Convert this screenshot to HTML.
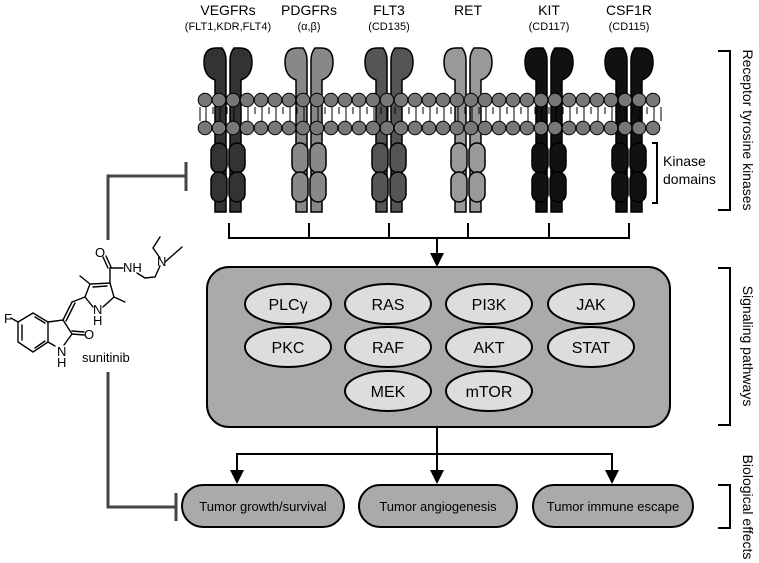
<!DOCTYPE html>
<html><head><meta charset="utf-8"><style>
html,body{margin:0;padding:0;background:#fff;}
svg{display:block;font-family:"Liberation Sans",sans-serif;}
</style></head><body>
<svg width="759" height="563" viewBox="0 0 759 563" xmlns="http://www.w3.org/2000/svg">
<defs>
<g id="rec">
  <path d="M-13,212 L-13,80 Q-24,76 -24,62 Q-24,48 -12,48 L-6,48 Q-2,53 -2,60 L-2,212 Z" stroke="#000" stroke-width="1.5"/>
  <path d="M13,212 L13,80 Q24,76 24,62 Q24,48 12,48 L6,48 Q2,53 2,60 L2,212 Z" stroke="#000" stroke-width="1.5"/>
</g>
<g id="kin">
  <rect x="-17" y="143" width="16" height="30" rx="8" stroke="#000" stroke-width="1.5"/>
  <rect x="-17" y="172" width="16" height="30" rx="8" stroke="#000" stroke-width="1.5"/>
  <rect x="1" y="143" width="16" height="30" rx="8" stroke="#000" stroke-width="1.5"/>
  <rect x="1" y="172" width="16" height="30" rx="8" stroke="#000" stroke-width="1.5"/>
</g>
</defs>

<g font-size="14" text-anchor="middle">
<text x="228" y="15">VEGFRs</text><text x="309" y="15">PDGFRs</text><text x="389" y="15">FLT3</text>
<text x="468" y="15">RET</text><text x="549" y="15">KIT</text><text x="629" y="15">CSF1R</text>
</g>
<g font-size="11" text-anchor="middle">
<text x="228" y="30">(FLT1,KDR,FLT4)</text><text x="309" y="30">(α,β)</text><text x="389" y="30">(CD135)</text>
<text x="549" y="30">(CD117)</text><text x="629" y="30">(CD115)</text>
</g>

<use href="#rec" x="228" fill="#333"/>
<use href="#rec" x="309" fill="#888"/>
<use href="#rec" x="389" fill="#555"/>
<use href="#rec" x="468" fill="#999"/>
<use href="#rec" x="549" fill="#111"/>
<use href="#rec" x="629" fill="#111"/>

<g stroke="#000" stroke-width="1" fill="none">
<path d="M200,107 L200,121 M206,107 L206,121 M213,107 L213,114 M220,107 L220,121 M227,107 L227,114 M234,107 L234,121 M241,107 L241,114 M248,107 L248,121 M255,107 L255,114 M262,107 L262,121 M269,107 L269,114 M276,107 L276,121 M283,107 L283,114 M290,107 L290,121 M297,107 L297,114 M304,107 L304,121 M311,107 L311,114 M318,107 L318,121 M325,107 L325,114 M332,107 L332,121 M339,107 L339,114 M346,107 L346,121 M353,107 L353,114 M360,107 L360,121 M367,107 L367,114 M374,107 L374,121 M381,107 L381,114 M388,107 L388,121 M395,107 L395,114 M402,107 L402,121 M409,107 L409,114 M416,107 L416,121 M423,107 L423,114 M430,107 L430,121 M437,107 L437,114 M444,107 L444,121 M451,107 L451,114 M458,107 L458,121 M465,107 L465,114 M472,107 L472,121 M479,107 L479,114 M486,107 L486,121 M493,107 L493,114 M500,107 L500,121 M507,107 L507,114 M514,107 L514,121 M521,107 L521,114 M528,107 L528,121 M535,107 L535,114 M542,107 L542,121 M549,107 L549,114 M556,107 L556,121 M563,107 L563,114 M570,107 L570,121 M577,107 L577,114 M584,107 L584,121 M591,107 L591,114 M598,107 L598,121 M605,107 L605,114 M612,107 L612,121 M619,107 L619,114 M626,107 L626,121 M633,107 L633,114 M640,107 L640,121 M647,107 L647,114 M654,107 L654,121 M661,107 L661,121"/>
</g>
<g fill="#777" stroke="#000" stroke-width="1">
<circle cx="205" cy="100" r="6.8"/><circle cx="219" cy="100" r="6.8"/><circle cx="233" cy="100" r="6.8"/><circle cx="247" cy="100" r="6.8"/><circle cx="261" cy="100" r="6.8"/><circle cx="275" cy="100" r="6.8"/><circle cx="289" cy="100" r="6.8"/><circle cx="303" cy="100" r="6.8"/><circle cx="317" cy="100" r="6.8"/><circle cx="331" cy="100" r="6.8"/><circle cx="345" cy="100" r="6.8"/><circle cx="359" cy="100" r="6.8"/><circle cx="373" cy="100" r="6.8"/><circle cx="387" cy="100" r="6.8"/><circle cx="401" cy="100" r="6.8"/><circle cx="415" cy="100" r="6.8"/><circle cx="429" cy="100" r="6.8"/><circle cx="443" cy="100" r="6.8"/><circle cx="457" cy="100" r="6.8"/><circle cx="471" cy="100" r="6.8"/><circle cx="485" cy="100" r="6.8"/><circle cx="499" cy="100" r="6.8"/><circle cx="513" cy="100" r="6.8"/><circle cx="527" cy="100" r="6.8"/><circle cx="541" cy="100" r="6.8"/><circle cx="555" cy="100" r="6.8"/><circle cx="569" cy="100" r="6.8"/><circle cx="583" cy="100" r="6.8"/><circle cx="597" cy="100" r="6.8"/><circle cx="611" cy="100" r="6.8"/><circle cx="625" cy="100" r="6.8"/><circle cx="639" cy="100" r="6.8"/><circle cx="653" cy="100" r="6.8"/>
<circle cx="205" cy="128" r="6.8"/><circle cx="219" cy="128" r="6.8"/><circle cx="233" cy="128" r="6.8"/><circle cx="247" cy="128" r="6.8"/><circle cx="261" cy="128" r="6.8"/><circle cx="275" cy="128" r="6.8"/><circle cx="289" cy="128" r="6.8"/><circle cx="303" cy="128" r="6.8"/><circle cx="317" cy="128" r="6.8"/><circle cx="331" cy="128" r="6.8"/><circle cx="345" cy="128" r="6.8"/><circle cx="359" cy="128" r="6.8"/><circle cx="373" cy="128" r="6.8"/><circle cx="387" cy="128" r="6.8"/><circle cx="401" cy="128" r="6.8"/><circle cx="415" cy="128" r="6.8"/><circle cx="429" cy="128" r="6.8"/><circle cx="443" cy="128" r="6.8"/><circle cx="457" cy="128" r="6.8"/><circle cx="471" cy="128" r="6.8"/><circle cx="485" cy="128" r="6.8"/><circle cx="499" cy="128" r="6.8"/><circle cx="513" cy="128" r="6.8"/><circle cx="527" cy="128" r="6.8"/><circle cx="541" cy="128" r="6.8"/><circle cx="555" cy="128" r="6.8"/><circle cx="569" cy="128" r="6.8"/><circle cx="583" cy="128" r="6.8"/><circle cx="597" cy="128" r="6.8"/><circle cx="611" cy="128" r="6.8"/><circle cx="625" cy="128" r="6.8"/><circle cx="639" cy="128" r="6.8"/><circle cx="653" cy="128" r="6.8"/>
</g>

<use href="#kin" x="228" fill="#333"/>
<use href="#kin" x="309" fill="#888"/>
<use href="#kin" x="389" fill="#555"/>
<use href="#kin" x="468" fill="#999"/>
<use href="#kin" x="549" fill="#111"/>
<use href="#kin" x="629" fill="#111"/>

<g stroke="#000" stroke-width="2" fill="none">
<path d="M229,223 V238 H629 V223 M309,223 V238 M389,223 V238 M468,223 V238 M549,223 V238"/>
<path d="M437,238 V256"/>
</g>
<polygon points="430,253 444,253 437,267" fill="#000"/>

<rect x="207" y="267" width="463" height="160" rx="22" fill="#aaa" stroke="#000" stroke-width="2"/>
<g fill="#ddd" stroke="#000" stroke-width="2">
<ellipse cx="288" cy="304" rx="43" ry="20"/><ellipse cx="388" cy="304" rx="43" ry="20"/><ellipse cx="489" cy="304" rx="43" ry="20"/><ellipse cx="591" cy="304" rx="43" ry="20"/>
<ellipse cx="288" cy="347" rx="43" ry="20"/><ellipse cx="388" cy="347" rx="43" ry="20"/><ellipse cx="489" cy="347" rx="43" ry="20"/><ellipse cx="591" cy="347" rx="43" ry="20"/>
<ellipse cx="388" cy="391" rx="43" ry="20"/><ellipse cx="489" cy="391" rx="43" ry="20"/>
</g>
<g font-size="16" text-anchor="middle">
<text x="288" y="310">PLCγ</text><text x="388" y="310">RAS</text><text x="489" y="310">PI3K</text><text x="591" y="310">JAK</text>
<text x="288" y="353">PKC</text><text x="388" y="353">RAF</text><text x="489" y="353">AKT</text><text x="591" y="353">STAT</text>
<text x="388" y="397">MEK</text><text x="489" y="397">mTOR</text>
</g>

<g stroke="#000" stroke-width="2" fill="none">
<path d="M437,427 V472 M237,472 V454 H612 V472"/>
</g>
<g fill="#000">
<polygon points="230,470 244,470 237,484"/>
<polygon points="430,470 444,470 437,484"/>
<polygon points="605,470 619,470 612,484"/>
</g>
<g fill="#aaa" stroke="#000" stroke-width="2">
<rect x="182" y="485" width="162" height="42" rx="21"/>
<rect x="359" y="485" width="158" height="42" rx="21"/>
<rect x="533" y="485" width="160" height="42" rx="21"/>
</g>
<g font-size="13" text-anchor="middle">
<text x="263" y="511">Tumor growth/survival</text>
<text x="438" y="511">Tumor angiogenesis</text>
<text x="613" y="511">Tumor immune escape</text>
</g>

<g stroke="#444" stroke-width="3" fill="none">
<path d="M108,240 V176 H186 M186,162 V191"/>
<path d="M108,372 V507 H176 M176,493 V521"/>
</g>

<g stroke="#000" stroke-width="2" fill="none">
<path d="M652,143 H657 V203 H652"/>
<path d="M718,51 H730 V210 H718"/>
<path d="M718,268 H730 V425 H718"/>
<path d="M718,485 H730 V528 H718"/>
</g>
<g font-size="14">
<text x="663" y="166">Kinase</text><text x="663" y="184">domains</text>
</g>
<g font-size="14" text-anchor="middle">
<text transform="translate(743,130) rotate(90)">Receptor tyrosine kinases</text>
<text transform="translate(743,346) rotate(90)">Signaling pathways</text>
<text transform="translate(743,507) rotate(90)">Biological effects</text>
</g>

<g stroke="#000" stroke-width="1.4" fill="none" stroke-linecap="round">
<path d="M33,313 L48,322 L48,342 L33,352 L18,342 L18,322 Z"/>
<path d="M22,325 L22,340 M35,348 L45,341 M35,317 L45,323"/>
<path d="M11,318 L18,322"/>
<path d="M48,322 L63,320 L72,334 L64,345 M55,346 L48,342"/>
<path d="M72,334 L84,335 M72,331 L84,332"/>
<path d="M63,320 L72,302 M66,321 L75,303"/>
<path d="M72,302 L85,297"/>
<path d="M85,297 L90,284 L110,283 L114,297 L103,307 M93,307 L85,297"/>
<path d="M93,287 L107,286"/>
<path d="M90,284 L80,276 M114,297 L125,302"/>
<path d="M110,283 L110,268 L123,268 M108,268 L103,257 M111,267 L106,256"/>
<path d="M137,273 L145,278 L155,277 L160,266 M165,262 L173,255 L182,247 M160,258 L153,248 L160,237"/>
</g>
<g font-size="13" fill="#000">
<text x="4" y="323">F</text>
<text x="57" y="356">N</text><text x="57" y="367">H</text>
<text x="84" y="339">O</text>
<text x="93" y="314">N</text><text x="93" y="325">H</text>
<text x="95" y="257">O</text>
<text x="123" y="272">NH</text>
<text x="157" y="266">N</text>
<text x="82" y="362" font-size="13">sunitinib</text>
</g>
</svg>
</body></html>
